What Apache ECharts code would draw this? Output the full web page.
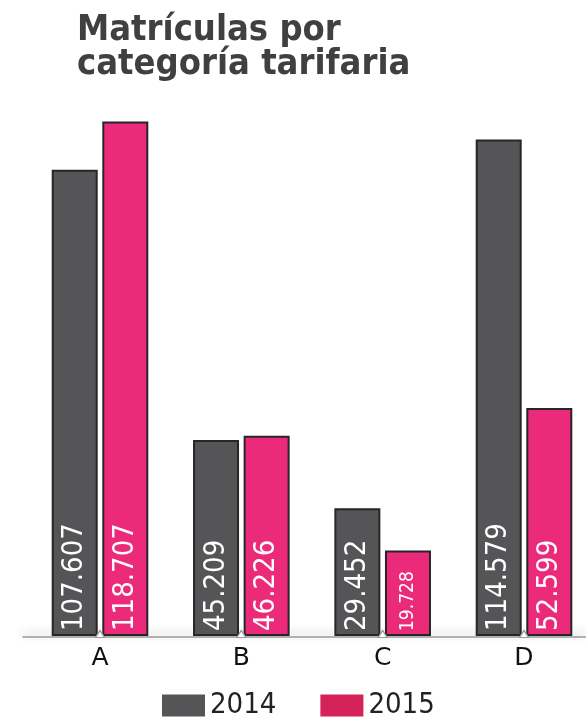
<!DOCTYPE html>
<html><head><meta charset="utf-8">
<script src="https://cdn.jsdelivr.net/npm/echarts@6/dist/echarts.min.js"></script>
<style>html,body{margin:0;padding:0;background:#fff}#c{width:586px;height:720px}</style>
</head><body><div id="c"></div>
<script>
const categories = ['A', 'B', 'C', 'D'];
const seriesNames = ['2014', '2015'];
const values2014 = [107.607, 45.209, 29.452, 114.579];
const values2015 = [118.707, 46.226, 19.728, 52.599];
const labels2014 = ['107.607', '45.209', '29.452', '114.579'];
const labels2015 = ['118.707', '46.226', '19.728', '52.599'];

const FONT = '"DejaVu Sans Condensed", "DejaVu Sans", sans-serif';
const chart = echarts.init(document.getElementById('c'), null, {renderer: 'canvas'});

function mk(vals, labs) {
  return vals.map((v, i) => ({
    value: v,
    label: {formatter: labs[i], fontSize: v < 25 ? 19 : 29}
  }));
}

const barLabel = {show: true, position: 'insideBottom', rotate: 90, align: 'left', verticalAlign: 'middle', distance: 5, color: '#fff', fontFamily: FONT};

chart.setOption({
  animation: false,
  title: {
    text: 'Matrículas por\ncategoría tarifaria',
    left: 72, top: 9,
    textStyle: {fontFamily: FONT, fontWeight: 'bold', fontSize: 36, lineHeight: 34, color: '#404040'}
  },
  legend: {
    bottom: 0, left: 162, padding: 0,
    icon: 'rect',
    itemWidth: 43, itemHeight: 22, itemGap: 44,
    textStyle: {fontFamily: FONT, fontSize: 29, color: '#222'},
    data: [
      {name: seriesNames[0], itemStyle: {color: '#555558', borderWidth: 0}},
      {name: seriesNames[1], itemStyle: {color: '#d6225a', borderWidth: 0}}
    ]
  },
  grid: [
    {left: 100, top: 116, right: 62, height: 520, containLabel: false},
    {left: 23, top: 116, right: 0, height: 521, containLabel: false}
  ],
  xAxis: [
    {
      type: 'category', data: categories, gridIndex: 0, boundaryGap: false,
      axisLine: {show: false},
      axisTick: {show: false},
      axisLabel: {fontFamily: '"DejaVu Sans", sans-serif', fontSize: 25, color: '#111', margin: 10}
    },
    {
      type: 'category', data: categories, gridIndex: 1,
      axisLine: {lineStyle: {color: '#999', width: 1.5, shadowColor: 'rgba(0,0,0,0.35)', shadowBlur: 10, shadowOffsetY: -3}},
      axisTick: {show: false},
      axisLabel: {show: false}
    }
  ],
  yAxis: [
    {type: 'value', min: 0, max: 120, show: false, gridIndex: 0},
    {type: 'value', min: 0, max: 120, show: false, gridIndex: 1}
  ],
  series: [
    {
      name: seriesNames[0], type: 'bar', data: mk(values2014, labels2014),
      barWidth: 46, barGap: '10%', z: 3,
      itemStyle: {color: '#555558', borderColor: '#262626', borderWidth: 2},
      label: barLabel
    },
    {
      name: seriesNames[1], type: 'bar', data: mk(values2015, labels2015),
      barWidth: 46, z: 3,
      itemStyle: {color: '#ec2a7a', borderColor: '#262626', borderWidth: 2},
      label: barLabel
    },
    {
      name: 'notch', type: 'line', data: [], z: 4, silent: true,
      markPoint: {
        silent: true,
        symbol: 'triangle', symbolSize: [9, 7], symbolOffset: [0, -2],
        itemStyle: {color: '#fff', borderColor: '#999', borderWidth: 1.2},
        label: {show: false},
        data: categories.map(c => ({coord: [c, 0]}))
      }
    }
  ]
});
</script></body></html>
